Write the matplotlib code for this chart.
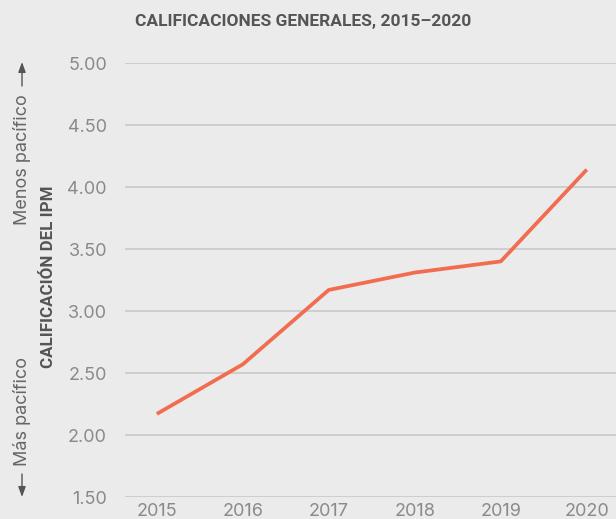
import matplotlib
matplotlib.use("Agg")
import matplotlib.pyplot as plt

years = [2015, 2016, 2017, 2018, 2019, 2020]
scores = [2.17, 2.57, 3.17, 3.31, 3.40, 4.14]
yticks = [1.5, 2.0, 2.5, 3.0, 3.5, 4.0, 4.5, 5.0]

plt.rcParams['font.family'] = ['Inter', 'DejaVu Sans']
bg = '#ebebeb'
W, H = 616, 519
fig = plt.figure(figsize=(W / 100, H / 100), dpi=100, facecolor=bg)
ax = fig.add_axes([125 / W, 1 - 497 / H, (W - 125) / W, (497 - 63) / H], facecolor=bg)

ax.plot(years, scores, color='#f26d50', lw=2.7, solid_capstyle='butt', zorder=3)
ax.set_xlim(2014.63, 2020.34)
ax.set_ylim(1.5, 5.0)
ax.set_yticks(yticks)
ax.set_yticklabels([f"{v:.2f}" for v in yticks])
ax.set_xticks(years)
ax.set_xticklabels([str(y) for y in years])
ax.grid(axis='y', color='#c9c9c9', lw=1.2, zorder=1)
ax.grid(axis='x', visible=False)
for s in ax.spines.values():
    s.set_visible(False)
ax.tick_params(axis='both', length=0, labelsize=13, labelcolor='#8a8a8a')
ax.tick_params(axis='y', pad=13)
ax.tick_params(axis='x', pad=4)

fig.text(303 / W, 1 - 21.5 / H, 'CALIFICACIONES GENERALES, 2015–2020', ha='center', va='center',
         fontsize=12.5, fontweight='bold', color='#555555', family=['Roboto', 'DejaVu Sans'])
fig.text(49 / W, 1 - 277 / H, 'CALIFICACIÓN DEL IPM', rotation=90, ha='center', va='center',
         fontsize=12.2, fontweight='bold', color='#555555', family=['Roboto', 'DejaVu Sans'])
fig.text(22 / W, 1 - 160 / H, 'Menos pacífico', rotation=90, ha='center', va='center',
         fontsize=13, color='#666666')
fig.text(22 / W, 1 - 412 / H, 'Más pacífico', rotation=90, ha='center', va='center',
         fontsize=13, color='#666666')

arrow_kw = dict(arrowstyle='-|>,head_length=0.6,head_width=0.22', color='#555555', lw=1.0,
                shrinkA=0, shrinkB=0)
ax.annotate('', xy=(22 / W, 1 - 62 / H), xytext=(22 / W, 1 - 86 / H),
            xycoords='figure fraction', textcoords='figure fraction', arrowprops=arrow_kw,
            annotation_clip=False)
ax.annotate('', xy=(22 / W, 1 - 497 / H), xytext=(22 / W, 1 - 474 / H),
            xycoords='figure fraction', textcoords='figure fraction', arrowprops=arrow_kw,
            annotation_clip=False)

fig.savefig('out.png', dpi=100, facecolor=bg)
